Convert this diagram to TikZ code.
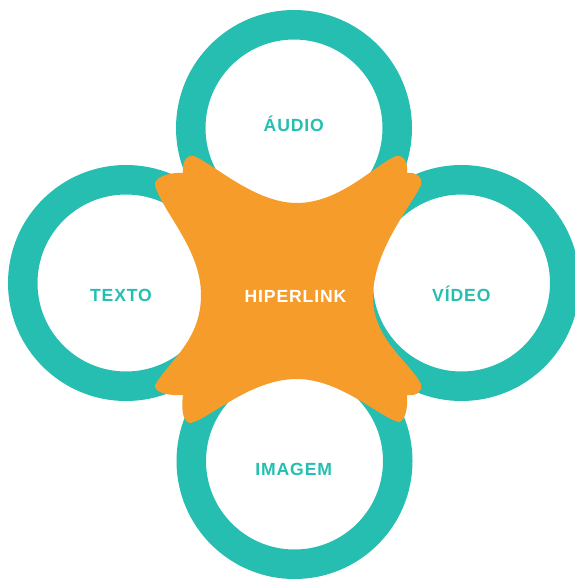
\documentclass[tikz,border=0pt]{standalone}
\usepackage{fontspec}
\setmainfont{Liberation Sans}
\newfontfamily\labelfont[LetterSpace=5]{Liberation Sans}
\usepackage{tikz}
\definecolor{ringteal}{RGB}{37,190,176}
\definecolor{huborange}{RGB}{246,156,42}
\tikzstyle{Ring}=[draw=ringteal, line width=29.5pt]
\tikzstyle{Label}=[anchor=base, inner sep=0pt, text=ringteal, font=\labelfont\bfseries\fontsize{17.6}{17.6}\selectfont]

\begin{document}
\begin{tikzpicture}[x=1pt, y=-1pt]
    \useasboundingbox (0,0) rectangle (575,579);
    \path
    (294,128) coordinate (audio)
    (126,283) coordinate (texto)
    (461.5,283) coordinate (video)
    (294.5,461) coordinate (imagem);

    % the four rings
    \foreach \c in {audio,texto,video,imagem}
        \draw[Ring] (\c) circle[radius=103.25];

    % the hub, a four-pointed star with notched tips
    \fill[huborange] (183,173)
        .. controls (182,162) and (186,155) .. (194,156)
        .. controls (215,165) and (255,203) .. (297,203)
        .. controls (340,203) and (375,165) .. (396,156)
        .. controls (404,155) and (408,162) .. (407,173)
        .. controls (415,172) and (423,176) .. (421,185)
        .. controls (412,205) and (373,250) .. (373,297)
        .. controls (373,340) and (410,362) .. (421,384)
        .. controls (423,393) and (415,396) .. (407,395)
        .. controls (408,405) and (406,421) .. (399,422)
        .. controls (380,418) and (340,378) .. (295,379)
        .. controls (250,380) and (210,418) .. (191,423)
        .. controls (183,423) and (181,410) .. (183,395)
        .. controls (170,396) and (154,393) .. (155,385)
        .. controls (170,360) and (201,340) .. (201,295)
        .. controls (201,250) and (165,215) .. (155,186)
        .. controls (153,178) and (168,172) .. (183,173) -- cycle;

    \path
    (293.8,131) node[Label] (audiolabel) {ÁUDIO}
    (121,301) node[Label] (textolabel) {TEXTO}
    (461.3,301) node[Label] (videolabel) {VÍDEO}
    (293.7,475) node[Label] (imagemlabel) {IMAGEM}
    (295.5,302.3) node[Label, text=white] (hub) {HIPERLINK};
\end{tikzpicture}
\end{document}
